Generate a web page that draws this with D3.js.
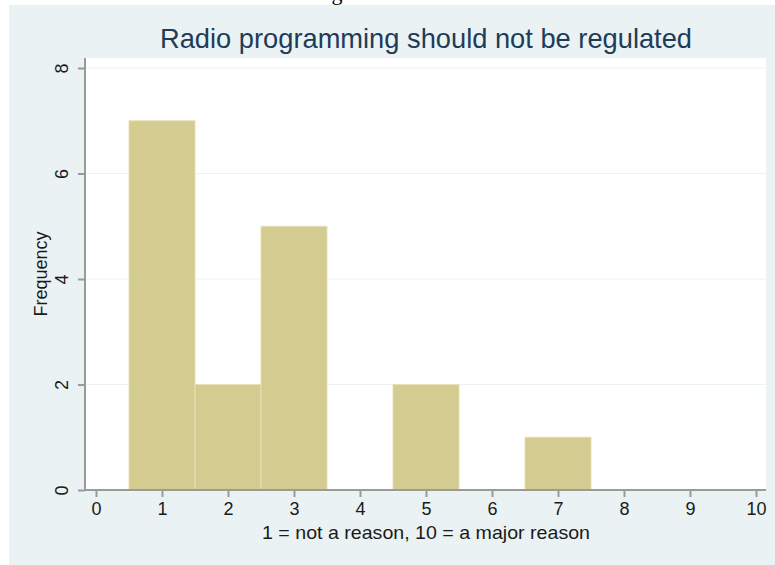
<!DOCTYPE html>
<html>
<head>
<meta charset="utf-8">
<script src="https://cdn.jsdelivr.net/npm/d3@7"></script>
<style>
  body { margin: 0; background: #fff; }
  text { font-family: "Liberation Sans", Arial, sans-serif; }
</style>
</head>
<body>
<div id="chart"></div>
<script>
// histogram data: rating (bin centre) and frequency
var ratings = [1, 2, 3, 5, 7];
var counts = [7, 2, 5, 2, 1];
var xTicks = [0, 1, 2, 3, 4, 5, 6, 7, 8, 9, 10];
var yTicks = [0, 2, 4, 6, 8];
var title = "Radio programming should not be regulated";
var xTitle = "1 = not a reason, 10 = a major reason";
var yTitle = "Frequency";

var width = 775, height = 565;

var svg = d3.select("#chart")
            .append("svg")
            .attr("width", width)
            .attr("height", height);

// outer graph region
svg.append("rect")
   .attr("x", 9).attr("y", 5)
   .attr("width", width - 9).attr("height", height - 5)
   .style("fill", "#eaf2f3");

// stray glyph left over from the page above (only its tail shows)
svg.append("text")
   .attr("x", 337).attr("y", 0)
   .style("font-family", "Liberation Serif, serif")
   .style("font-size", "22px")
   .style("fill", "#000")
   .style("text-anchor", "middle")
   .text("g");

var plot = {left: 85, top: 58, right: 766, bottom: 490};

svg.append("rect")
   .attr("x", plot.left).attr("y", plot.top)
   .attr("width", plot.right - plot.left).attr("height", plot.bottom - plot.top)
   .style("fill", "#fff");

var xScale = d3.scaleLinear().domain([0, 10]).range([96, 756]);
var yScale = d3.scaleLinear().domain([0, 8]).range([plot.bottom, 68]);

// grid lines
svg.selectAll(".grid")
   .data(yTicks.slice(1))
   .enter()
   .append("line")
   .attr("class", "grid")
   .attr("x1", plot.left).attr("x2", plot.right)
   .attr("y1", function(d) { return yScale(d); })
   .attr("y2", function(d) { return yScale(d); })
   .style("stroke", "#eaf2f3")
   .style("stroke-width", 1);

// bars
svg.selectAll(".bars")
   .data(ratings)
   .enter()
   .append("rect")
   .attr("class", "bars")
   .attr("x", function(d) { return xScale(d - 0.5); })
   .attr("width", function(d) { return xScale(d + 0.5) - xScale(d - 0.5); })
   .attr("y", function(d, i) { return yScale(counts[i]); })
   .attr("height", function(d, i) { return plot.bottom - yScale(counts[i]); })
   .style("fill", "#d3cb8f")
   .style("stroke", "#e6e0b6")
   .style("stroke-width", 1);

// x axis
var xAxis = svg.append("g")
   .attr("transform", "translate(0," + plot.bottom + ")")
   .call(d3.axisBottom(xScale).tickValues(xTicks).tickSize(7).tickPadding(5).tickSizeOuter(0));
xAxis.select(".domain").attr("d", "M" + plot.left + ",0H" + plot.right);

// y axis
var yAxis = svg.append("g")
   .attr("transform", "translate(" + plot.left + ",0)")
   .call(d3.axisLeft(yScale).tickValues(yTicks).tickSize(7).tickSizeOuter(0));
yAxis.select(".domain").attr("d", "M0," + plot.top + "V" + plot.bottom);

svg.selectAll(".domain, .tick line")
   .style("stroke", "#9a9a9a")
   .style("stroke-width", 2);

xAxis.selectAll(".tick text")
   .style("font-size", "18px")
   .style("fill", "#1a1a1a");

yAxis.selectAll(".tick text")
   .attr("x", null).attr("dy", null)
   .attr("transform", "translate(-17,0) rotate(-90)")
   .attr("y", 0)
   .style("text-anchor", "middle")
   .style("font-size", "18px")
   .style("fill", "#1a1a1a");

// titles
svg.append("text")
   .attr("x", 426).attr("y", 48)
   .attr("textLength", 532)
   .attr("lengthAdjust", "spacingAndGlyphs")
   .style("text-anchor", "middle")
   .style("font-size", "28px")
   .style("fill", "#1e3c5a")
   .text(title);

svg.append("text")
   .attr("x", 426).attr("y", 539)
   .attr("textLength", 328)
   .attr("lengthAdjust", "spacingAndGlyphs")
   .style("text-anchor", "middle")
   .style("font-size", "19px")
   .style("fill", "#1a1a1a")
   .text(xTitle);

svg.append("text")
   .attr("transform", "translate(47,274) rotate(-90)")
   .style("text-anchor", "middle")
   .style("font-size", "18px")
   .style("fill", "#1a1a1a")
   .text(yTitle);
</script>
</body>
</html>
